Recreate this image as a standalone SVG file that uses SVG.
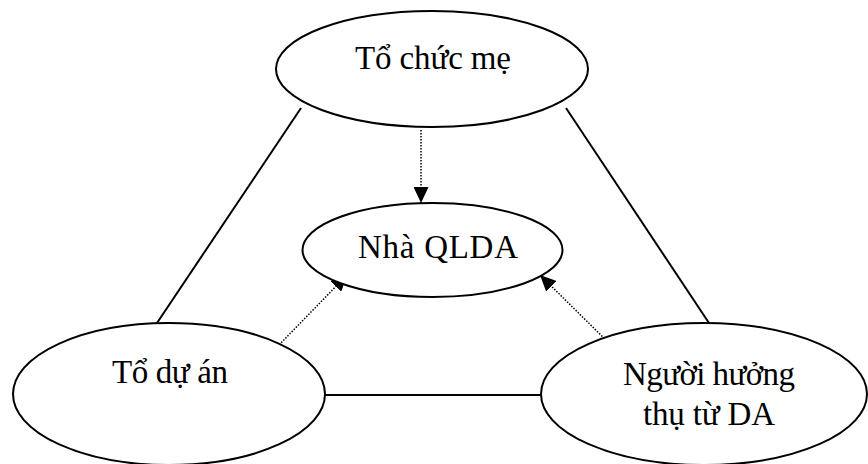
<svg xmlns="http://www.w3.org/2000/svg" width="868" height="464" viewBox="0 0 868 464">
  <style>
    .node ellipse { fill: #ffffff; stroke: #000000; stroke-width: 2; }
    .node text { font-family: "Liberation Serif", "Times New Roman", serif; font-size: 33px; fill: #000000; }
    .solid { stroke: #000000; stroke-width: 2; fill: none; }
    .dotted { stroke: #000000; stroke-width: 1.5; stroke-dasharray: 1.5 1.5; fill: none; marker-end: url(#arrow); }
  </style>
  <defs>
    <marker id="arrow" viewBox="0 0 16 15" refX="16" refY="7.5" markerWidth="16" markerHeight="15" markerUnits="userSpaceOnUse" orient="auto">
      <path d="M0,0 L16,7.5 L0,15 Z" fill="#000000"/>
    </marker>
  </defs>
  <rect width="868" height="464" fill="#ffffff"/>

  <!-- connectors -->
  <g id="connectors">
    <line class="solid" x1="301" y1="108" x2="157" y2="323"/>
    <line class="solid" x1="566" y1="108" x2="709" y2="323"/>
    <line class="solid" x1="325" y1="395" x2="541" y2="395"/>
    <line class="dotted" x1="421" y1="130" x2="421" y2="203"/>
    <line class="dotted" x1="277" y1="347" x2="347" y2="275"/>
    <line class="dotted" x1="613" y1="347" x2="540" y2="275"/>
  </g>

  <!-- nodes -->
  <g id="to-chuc-me" class="node">
    <ellipse cx="432" cy="69" rx="156" ry="58"/>
    <text x="355" y="69" textLength="156" lengthAdjust="spacing">Tổ chức mẹ</text>
  </g>
  <g id="nha-qlda" class="node">
    <ellipse cx="432.5" cy="250" rx="130" ry="47"/>
    <text x="358" y="258" textLength="160" lengthAdjust="spacing">Nhà QLDA</text>
  </g>
  <g id="to-du-an" class="node">
    <ellipse cx="169" cy="394" rx="156" ry="71"/>
    <text x="112" y="383" textLength="116" lengthAdjust="spacing">Tổ dự án</text>
  </g>
  <g id="nguoi-huong-thu" class="node">
    <ellipse cx="704" cy="394" rx="163" ry="71"/>
    <text x="623" y="385" textLength="172" lengthAdjust="spacing">Người hưởng</text>
    <text x="643" y="425" textLength="132" lengthAdjust="spacing">thụ từ DA</text>
  </g>
</svg>
